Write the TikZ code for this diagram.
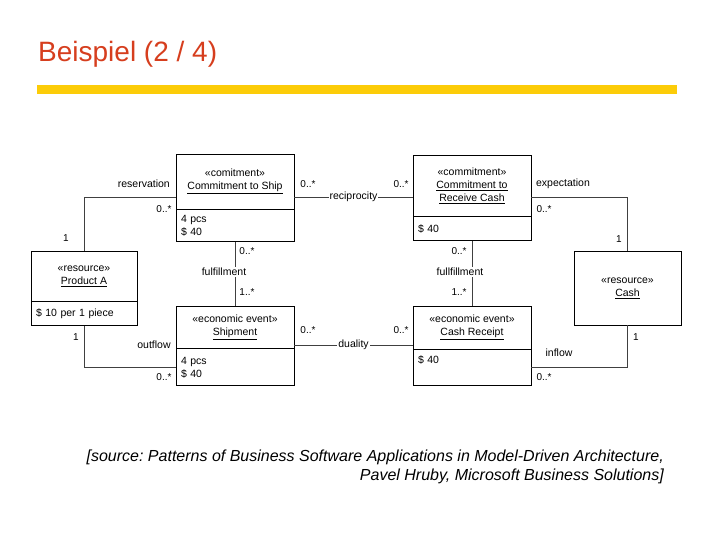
\documentclass[tikz,border=0pt]{standalone}
\usepackage{fontspec}
\setmainfont{Liberation Sans}
\usetikzlibrary{positioning}
\definecolor{titlered}{RGB}{214,62,30}
\definecolor{baryellow}{RGB}{252,204,8}
\frenchspacing

\begin{document}
\begin{tikzpicture}[x=1pt, y=-1pt,
  box/.style={draw, line width=0.8pt, inner sep=0pt, minimum width=118pt, align=center, font=\fontsize{10.5}{13}\selectfont},
  attr/.style={box, align=left, text width=108pt},
  link/.style={draw=black!75, line width=0.8pt},
  lbl/.style={inner sep=1pt, font=\fontsize{10.5}{13}\selectfont},
  mult/.style={inner sep=1pt, font=\fontsize{10}{12}\selectfont}]
\useasboundingbox (0,0) rectangle (720,540);

% Title and bar
\node[anchor=base west, text=titlered, font=\fontsize{28}{32}\selectfont, inner sep=0pt] (title) at (38,62) {Beispiel (2 / 4)};
\fill[baryellow] (37,85) rectangle (677,94);

% Commitments
\node[box, minimum height=55pt] (shiphead) at (235,181.5) {«comitment»\\\underline{Commitment to Ship}};
\node[attr, minimum height=32pt, below=0pt of shiphead] (shipattr) {4 pcs\\\$ 40};
\node[box, minimum height=61pt] (recvhead) at (472,185.5) {«commitment»\\\underline{Commitment to}\\\underline{Receive Cash}};
\node[attr, minimum height=24pt, below=0pt of recvhead] (recvattr) {\$ 40};

% Resources
\node[box, minimum width=106pt, minimum height=50pt] (prodhead) at (84,276) {«resource»\\\underline{Product A}};
\node[attr, minimum width=106pt, text width=96pt, minimum height=24pt, below=0pt of prodhead] (prodattr) {\$ 10 per 1 piece};
\node[box, minimum width=107pt, minimum height=74pt] (cash) at (627.5,288) {«resource»\\\underline{Cash}};

% Economic events
\node[box, minimum height=42pt] (shiphd) at (235,327) {«economic event»\\\underline{Shipment}};
\node[attr, minimum height=37pt, below=0pt of shiphd] (shipmentattr) {4 pcs\\\$ 40};
\node[box, minimum height=43pt] (rcpthead) at (472,327.5) {«economic event»\\\underline{Cash Receipt}};
\node[attr, text height=14pt, text depth=22pt, below=0pt of rcpthead] (rcptattr) {\$ 40};

% Associations
\draw[link] ([yshift=-15.5pt]shiphead.west) -| (prodhead.north);
\draw[link] ([yshift=-15.5pt]shiphead.east) -- ([yshift=-11.5pt]recvhead.west) node[midway, lbl, fill=white] (recip) {reciprocity};
\draw[link] ([yshift=-11.5pt]recvhead.east) -| (cash.north);
\draw[link] (shipattr.south) -- (shiphd.north);
\draw[link] (recvattr.south) -- (rcpthead.north);
\draw[link] ([yshift=-18pt]shiphd.east) -- ([yshift=-17.5pt]rcpthead.west) node[midway, lbl, fill=white] (dual) {duality};
\draw[link] (prodattr.south) |- (shipmentattr.west);
\draw[link] (cash.south) |- (rcptattr.east);

% Role names and multiplicities
\node[lbl, anchor=east] (resv) at (171,184) {reservation};
\node[mult] (m1) at (164,209) {0..*};
\node[mult] (m2) at (66,238) {1};
\node[mult] (m3) at (308,184) {0..*};
\node[mult] (m4) at (401,184) {0..*};
\node[lbl] (expect) at (563,184) {expectation};
\node[mult] (m5) at (544,209) {0..*};
\node[mult] (m6) at (619,239) {1};
\node[mult] (m7) at (247,251) {0..*};
\node[lbl, fill=white] (fulfl) at (224,272) {fulfillment};
\node[mult] (m8) at (247,292) {1..*};
\node[mult] (m9) at (459,251) {0..*};
\node[lbl, fill=white] (fulfr) at (460,272) {fullfillment};
\node[mult] (m10) at (459,292) {1..*};
\node[mult] (m11) at (76,337) {1};
\node[lbl] (outfl) at (154,345) {outflow};
\node[mult] (m12) at (164,377) {0..*};
\node[mult] (m13) at (308,330) {0..*};
\node[mult] (m14) at (401,330) {0..*};
\node[lbl] (infl) at (559,353) {inflow};
\node[mult] (m15) at (544,377) {0..*};
\node[mult] (m16) at (636,337) {1};

% Source
\node[anchor=east, align=right, inner sep=0pt, font=\itshape\fontsize{16}{19}\selectfont] (src) at (664,466.5) {[source: Patterns of Business Software Applications in Model-Driven Architecture,\\Pavel Hruby, Microsoft Business Solutions]};
\end{tikzpicture}
\end{document}
